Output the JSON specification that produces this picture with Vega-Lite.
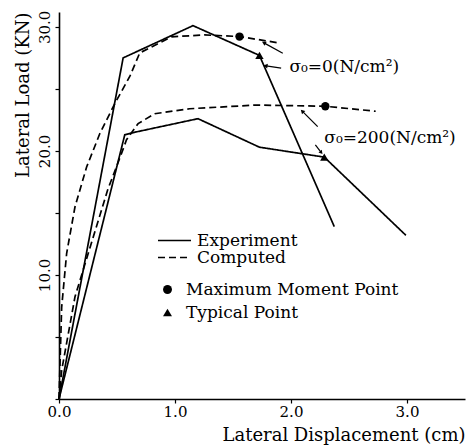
{
  "$schema": "https://vega.github.io/schema/vega-lite/v6.json",
  "width": 406,
  "height": 387,
  "autosize": {"type": "none"},
  "padding": {"left": 59, "top": 12, "right": 4, "bottom": 49},
  "background": "white",
  "config": {
    "view": {"stroke": null},
    "font": "DejaVu Serif",
    "axis": {"grid": false, "domainColor": "black", "tickColor": "black", "labelColor": "black", "titleColor": "black", "labelFont": "DejaVu Serif", "titleFont": "DejaVu Serif", "titleFontWeight": "normal", "domainWidth": 1.6, "tickWidth": 1.2},
    "legend": {"labelFont": "DejaVu Serif", "labelColor": "black", "labelFontSize": 17, "labelLimit": 0}
  },
  "datasets": {
    "curves": [
      {"curve": "E0", "type": "Experiment", "x": 0, "y": 0},
      {"curve": "E0", "type": "Experiment", "x": 0.553, "y": 27.5},
      {"curve": "E0", "type": "Experiment", "x": 1.155, "y": 30.1},
      {"curve": "E0", "type": "Experiment", "x": 1.728, "y": 27.7},
      {"curve": "E0", "type": "Experiment", "x": 2.373, "y": 13.9},
      {"curve": "E200", "type": "Experiment", "x": 0, "y": 0},
      {"curve": "E200", "type": "Experiment", "x": 0.567, "y": 21.3},
      {"curve": "E200", "type": "Experiment", "x": 0.65, "y": 21.5},
      {"curve": "E200", "type": "Experiment", "x": 1.198, "y": 22.6},
      {"curve": "E200", "type": "Experiment", "x": 1.728, "y": 20.3},
      {"curve": "E200", "type": "Experiment", "x": 2.287, "y": 19.5},
      {"curve": "E200", "type": "Experiment", "x": 2.99, "y": 13.2},
      {"curve": "C0", "type": "Computed", "x": 0, "y": 0},
      {"curve": "C0", "type": "Computed", "x": 0.023, "y": 7.4},
      {"curve": "C0", "type": "Computed", "x": 0.066, "y": 11.75},
      {"curve": "C0", "type": "Computed", "x": 0.138, "y": 15.5},
      {"curve": "C0", "type": "Computed", "x": 0.238, "y": 18.7},
      {"curve": "C0", "type": "Computed", "x": 0.352, "y": 21.4},
      {"curve": "C0", "type": "Computed", "x": 0.48, "y": 23.8},
      {"curve": "C0", "type": "Computed", "x": 0.61, "y": 26.0},
      {"curve": "C0", "type": "Computed", "x": 0.696, "y": 27.9},
      {"curve": "C0", "type": "Computed", "x": 0.969, "y": 29.2},
      {"curve": "C0", "type": "Computed", "x": 1.255, "y": 29.35},
      {"curve": "C0", "type": "Computed", "x": 1.556, "y": 29.22},
      {"curve": "C0", "type": "Computed", "x": 1.9, "y": 28.7},
      {"curve": "C200", "type": "Computed", "x": 0, "y": 0},
      {"curve": "C200", "type": "Computed", "x": 0.023, "y": 2.3},
      {"curve": "C200", "type": "Computed", "x": 0.138, "y": 8.25},
      {"curve": "C200", "type": "Computed", "x": 0.421, "y": 16.9},
      {"curve": "C200", "type": "Computed", "x": 0.539, "y": 19.8},
      {"curve": "C200", "type": "Computed", "x": 0.582, "y": 20.9},
      {"curve": "C200", "type": "Computed", "x": 0.682, "y": 22.2},
      {"curve": "C200", "type": "Computed", "x": 0.825, "y": 23.0},
      {"curve": "C200", "type": "Computed", "x": 1.126, "y": 23.4},
      {"curve": "C200", "type": "Computed", "x": 1.7, "y": 23.7},
      {"curve": "C200", "type": "Computed", "x": 2.296, "y": 23.6},
      {"curve": "C200", "type": "Computed", "x": 2.73, "y": 23.2}
    ],
    "points": [
      {"kind": "Maximum Moment Point", "x": 1.556, "y": 29.22},
      {"kind": "Maximum Moment Point", "x": 2.296, "y": 23.6},
      {"kind": "Typical Point", "x": 1.728, "y": 27.7},
      {"kind": "Typical Point", "x": 2.287, "y": 19.5}
    ],
    "arrows": [
      {"id": "a1", "x": 1.929, "y": 27.88, "x2": 1.771, "y2": 28.69},
      {"id": "a2", "x": 1.915, "y": 26.67, "x2": 1.786, "y2": 26.85},
      {"id": "a3", "x": 2.23, "y": 21.96, "x2": 2.101, "y2": 23.17},
      {"id": "a4", "x": 2.21, "y": 20.48, "x2": 2.258, "y2": 19.9}
    ],
    "labels": [
      {"text": "σ₀=0(N/cm²)", "x": 1.986, "y": 26.77},
      {"text": "σ₀=200(N/cm²)", "x": 2.287, "y": 21.05}
    ]
  },
  "encoding": {
    "x": {"type": "quantitative", "scale": {"domain": [0, 3.5], "nice": false, "zero": false},
      "axis": {"values": [0, 1, 2, 3], "format": ".1f", "labelFlush": false, "title": "Lateral Displacement (cm)", "titleAnchor": "end", "titleFontSize": 18, "labelFontSize": 15, "tickSize": 4, "labelPadding": 1, "titlePadding": 7}},
    "y": {"type": "quantitative", "scale": {"domain": [0, 31.2], "nice": false, "zero": false},
      "axis": {"values": [0, 5, 10, 15, 20, 25, 30], "labelExpr": "datum.value % 10 == 0 && datum.value > 0 ? format(datum.value, '.1f') : ''", "labelFlush": false, "labelAngle": 270, "labelAlign": "center", "labelBaseline": "bottom", "labelFontSize": 15, "tickSize": 4, "labelPadding": 3, "title": "Lateral Load (KN)", "titleAnchor": "end", "titleAngle": 270, "titleFontSize": 18, "titlePadding": 5}}
  },
  "layer": [
    {
      "data": {"name": "curves"},
      "mark": {"type": "line", "color": "black", "strokeWidth": 1.7},
      "encoding": {
        "x": {"field": "x", "type": "quantitative"},
        "y": {"field": "y", "type": "quantitative"},
        "detail": {"field": "curve"},
        "strokeDash": {"field": "type", "type": "nominal",
          "scale": {"domain": ["Experiment", "Computed"], "range": [[1, 0], [7, 4]]},
          "legend": {"title": null, "orient": "none", "legendX": 107, "legendY": 220, "symbolType": "M-3.3,0L3.3,0", "symbolSize": 100, "symbolStrokeWidth": 1.5, "symbolStrokeColor": "black", "symbolFillColor": "transparent", "labelOffset": 14, "rowPadding": -6, "padding": 0}}
      }
    },
    {
      "data": {"name": "points"},
      "mark": {"type": "point", "filled": true, "color": "black", "opacity": 1, "size": 70},
      "encoding": {
        "x": {"field": "x", "type": "quantitative"},
        "y": {"field": "y", "type": "quantitative"},
        "shape": {"field": "kind", "type": "nominal",
          "scale": {"domain": ["Maximum Moment Point", "Typical Point"], "range": ["circle", "triangle-up"]},
          "legend": {"title": null, "orient": "none", "legendX": 100, "legendY": 269, "symbolSize": 80, "symbolFillColor": "black", "symbolStrokeColor": "black", "labelOffset": 10, "rowPadding": 5, "padding": 0}}
      }
    },
    {
      "data": {"name": "arrows"},
      "mark": {"type": "rule", "color": "black", "strokeWidth": 1.2},
      "encoding": {
        "x": {"field": "x", "type": "quantitative"},
        "y": {"field": "y", "type": "quantitative"},
        "x2": {"field": "x2"},
        "y2": {"field": "y2"}
      }
    },
    {
      "data": {"name": "arrows"},
      "transform": [{"filter": "datum.id == 'a1'"}],
      "mark": {"type": "point", "shape": "triangle", "filled": true, "color": "black", "opacity": 1, "size": 22, "angle": 299},
      "encoding": {"x": {"field": "x2", "type": "quantitative"}, "y": {"field": "y2", "type": "quantitative"}}
    },
    {
      "data": {"name": "arrows"},
      "transform": [{"filter": "datum.id == 'a2'"}],
      "mark": {"type": "point", "shape": "triangle", "filled": true, "color": "black", "opacity": 1, "size": 22, "angle": 279},
      "encoding": {"x": {"field": "x2", "type": "quantitative"}, "y": {"field": "y2", "type": "quantitative"}}
    },
    {
      "data": {"name": "arrows"},
      "transform": [{"filter": "datum.id == 'a3'"}],
      "mark": {"type": "point", "shape": "triangle", "filled": true, "color": "black", "opacity": 1, "size": 22, "angle": 315},
      "encoding": {"x": {"field": "x2", "type": "quantitative"}, "y": {"field": "y2", "type": "quantitative"}}
    },
    {
      "data": {"name": "arrows"},
      "transform": [{"filter": "datum.id == 'a4'"}],
      "mark": {"type": "point", "shape": "triangle", "filled": true, "color": "black", "opacity": 1, "size": 18, "angle": 140},
      "encoding": {"x": {"field": "x2", "type": "quantitative"}, "y": {"field": "y2", "type": "quantitative"}}
    },
    {
      "data": {"name": "labels"},
      "mark": {"type": "text", "align": "left", "baseline": "middle", "font": "DejaVu Serif", "fontSize": 17, "color": "black"},
      "encoding": {
        "x": {"field": "x", "type": "quantitative"},
        "y": {"field": "y", "type": "quantitative"},
        "text": {"field": "text"}
      }
    }
  ]
}
